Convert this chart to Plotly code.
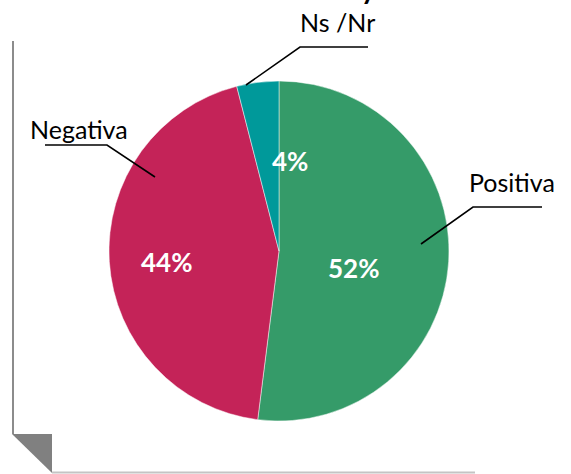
import plotly.graph_objects as go

# ---- data ----
categories = ["Positiva", "Negativa", "Ns /Nr"]
values = [52, 44, 4]
colors = ["#359B69", "#C42358", "#00999A"]

W, H = 571, 474

def px(x):
    return x / W

def py(y):
    return 1 - y / H

# layout constants (pixel positions of the outside labels, leader lines, inside labels)
cx, cy, r = 279, 251, 170
outside_label_pos = {"Positiva": (512, 182), "Negativa": (79, 129), "Ns /Nr": (337, 22)}
leader_paths = {
    "Positiva": [(542, 207), (473, 207), (421, 244)],
    "Negativa": [(45, 145), (107, 145), (155, 177)],
    "Ns /Nr": [(368, 47), (300, 47), (246, 85)],
}
inside_label_pos = {"Positiva": (353, 268), "Negativa": (166, 262), "Ns /Nr": (290, 161)}

fig = go.Figure()
fig.add_trace(go.Pie(
    labels=categories,
    values=values,
    marker=dict(colors=colors, line=dict(color="rgba(255,255,255,0.6)", width=0.8)),
    sort=False,
    direction="clockwise",
    rotation=0,
    textinfo="none",
    hoverinfo="label+percent",
    showlegend=False,
    domain=dict(x=[px(cx - r), px(cx + r)], y=[py(cy + r), py(cy - r)]),
))

total = sum(values)
annotations = []
for cat, v in zip(categories, values):
    x, y = inside_label_pos[cat]
    annotations.append(dict(
        x=px(x), y=py(y), xref="paper", yref="paper",
        text=f"<b>{round(100 * v / total)}%</b>", showarrow=False,
        font=dict(family="Lato", size=26, color="white"),
        xanchor="center", yanchor="middle",
    ))
    lx, ly = outside_label_pos[cat]
    annotations.append(dict(
        x=px(lx), y=py(ly), xref="paper", yref="paper",
        text=cat, showarrow=False,
        font=dict(family="Lato", size=25, color="black"),
        xanchor="center", yanchor="middle",
    ))

# clipped title descender at top
annotations.append(dict(
    x=px(368), y=py(6), xref="paper", yref="paper", text="<b>y</b>",
    showarrow=False, font=dict(family="Lato", size=28, color="black"),
    xanchor="center", yanchor="bottom", yshift=-1,
))

shapes = []
for cat, pts in leader_paths.items():
    path = "M " + " L ".join(f"{px(x)} {py(y)}" for x, y in pts)
    shapes.append(dict(type="path", path=path, xref="paper", yref="paper",
                       line=dict(color="black", width=1.6)))

# page-like border with folded corner
shapes.append(dict(type="line", xref="paper", yref="paper",
                   x0=px(13), y0=py(41), x1=px(13), y1=py(434),
                   line=dict(color="#8c8c8c", width=2)))
shapes.append(dict(type="line", xref="paper", yref="paper",
                   x0=px(52), y0=py(472.5), x1=px(475), y1=py(472.5),
                   line=dict(color="#c4c4c4", width=2)))
shapes.append(dict(type="path", xref="paper", yref="paper",
                   path=f"M {px(12)} {py(434)} L {px(52)} {py(434)} L {px(52)} {py(473)} Z",
                   fillcolor="#808080", line=dict(width=0)))

fig.update_layout(
    width=W, height=H,
    margin=dict(l=0, r=0, t=0, b=0),
    paper_bgcolor="white",
    plot_bgcolor="white",
    annotations=annotations,
    shapes=shapes,
)

fig.write_html("out.html",
               config={"displayModeBar": False},
               post_script="document.body.style.margin='0';document.body.style.overflow='hidden';")
